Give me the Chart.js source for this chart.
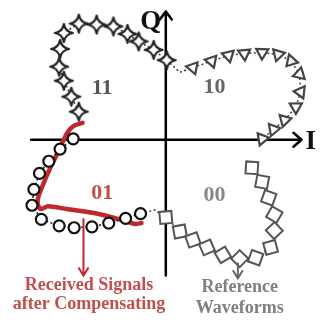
<!DOCTYPE html>
<html>
<head>
<meta charset="utf-8">
<script src="https://cdn.jsdelivr.net/npm/chart.js@4.4.0/dist/chart.umd.min.js"></script>
<style>
  body { margin: 0; background: #fff; }
  canvas { display: block; }
</style>
</head>
<body>
<canvas id="myChart" width="326" height="330"></canvas>
<script>
// symbols, in I / Q units (origin = axis crossing)
var stars11I = [-93, -101, -109, -114, -113, -109, -93, -74, -56, -41, -29, -13, 1];
var stars11Q = [30, 46, 63, 78, 97, 114, 124, 123, 121, 113, 105, 96, 85];

var tri10I = [29, 49, 67, 84, 103, 120, 134, 143, 144, 139, 127, 115, 103];
var tri10Q = [77, 84, 90, 92, 93, 91, 84, 70, 51, 35, 21, 11, 1];

var circ01I = [-99, -113, -125, -135, -141, -143, -133, -114, -98, -79, -61, -43, -27];
var circ01Q = [1, -10, -23, -36, -53, -70, -85, -92, -94, -93, -89, -84, -79];

var sq00I = [0, 15, 29, 44, 61, 79, 96, 112, 116, 116, 110, 103, 92];
var sq00Q = [-83, -98, -107, -115, -123, -127, -126, -115, -97, -80, -62, -45, -30];

// received signal after compensation (red trace)
var rxI = [-89, -98, -105, -110, -116, -123, -130, -136, -137, -134, -126, -106, -73, -46, -33, -26];
var rxQ = [18, 15, 8, -2, -15, -29, -45, -60, -68, -74, -71, -74, -79, -86, -90, -89];

// dotted links between the groups
var link1I = [1, 15, 29];
var link1Q = [85, 72, 77];
var link2I = [-27, -12, 0];
var link2Q = [-79, -75, -83];

var quadLabels = ['11', '10', '01', '00'];

function pts(xs, ys) {
  return xs.map(function (x, i) { return { x: x, y: ys[i] }; });
}

// four pointed star marker
var starImg = document.createElement('canvas');
starImg.width = 22; starImg.height = 22;
(function () {
  var c = starImg.getContext('2d');
  var cx = 11, cy = 11, R = 9, r = 1.8;
  c.beginPath();
  for (var k = 0; k < 4; k++) {
    var a = k * Math.PI / 2 - Math.PI / 2;
    var b = a + Math.PI / 4;
    var a2 = a + Math.PI / 2;
    if (k === 0) c.moveTo(cx + R * Math.cos(a), cy + R * Math.sin(a));
    c.quadraticCurveTo(cx + r * Math.cos(b), cy + r * Math.sin(b), cx + R * Math.cos(a2), cy + R * Math.sin(a2));
  }
  c.closePath();
  c.fillStyle = '#fff';
  c.fill();
  c.lineWidth = 2.2;
  c.lineJoin = 'round';
  c.strokeStyle = '#222';
  c.stroke();
})();

// rotate a marker along its path
function along(offset) {
  return function (ctx) {
    var d = ctx.dataset.data, i = ctx.dataIndex;
    var a = d[Math.max(i - 1, 0)], b = d[Math.min(i + 1, d.length - 1)];
    var ang = Math.atan2(-(b.y - a.y), b.x - a.x) * 180 / Math.PI;
    return ang + offset;
  };
}

function arrow(c, x, y0, y1, color, w) {
  c.save();
  c.strokeStyle = color;
  c.lineWidth = w;
  c.beginPath();
  c.moveTo(x, y0); c.lineTo(x, y1);
  c.moveTo(x - 5, y1 - 8); c.lineTo(x, y1); c.lineTo(x + 5, y1 - 8);
  c.stroke();
  c.restore();
}

var decor = {
  id: 'decor',
  beforeDatasetsDraw: function (chart) {
    var c = chart.ctx, sx = chart.scales.x, sy = chart.scales.y;
    var ox = sx.getPixelForValue(0), oy = sy.getPixelForValue(0);
    c.save();
    c.strokeStyle = '#000';
    c.lineWidth = 2.5;
    c.lineCap = 'round';
    c.lineJoin = 'round';
    // I axis
    var xe = sx.getPixelForValue(145);
    c.beginPath();
    c.moveTo(sx.getPixelForValue(-144), oy); c.lineTo(xe, oy);
    c.moveTo(xe - 8, oy - 7); c.lineTo(xe, oy); c.lineTo(xe - 8, oy + 7);
    // Q axis
    var ye = sy.getPixelForValue(137);
    c.moveTo(ox, sy.getPixelForValue(-145)); c.lineTo(ox, ye);
    c.moveTo(ox - 6, ye + 8); c.lineTo(ox, ye); c.lineTo(ox + 6, ye + 8);
    c.stroke();
    c.restore();
  },
  afterDraw: function (chart) {
    var c = chart.ctx, sx = chart.scales.x, sy = chart.scales.y;
    var X = function (v) { return sx.getPixelForValue(v); };
    var Y = function (v) { return sy.getPixelForValue(v); };
    c.save();
    c.textAlign = 'center';
    c.textBaseline = 'middle';
    c.font = 'bold 27px "Liberation Serif"';
    c.fillStyle = '#111';
    c.fillText('Q', X(-16), Y(126));
    c.fillText('I', X(155), Y(-2));

    c.font = 'bold 22px "Liberation Serif"';
    var qpos = [[-68, 55, '#555'], [52, 56, '#666'], [-68, -57, '#c0504d'], [52, -59, '#888']];
    quadLabels.forEach(function (t, i) {
      c.fillStyle = qpos[i][2];
      c.fillText(t, X(qpos[i][0]), Y(qpos[i][1]));
    });

    arrow(c, X(-88), Y(-84), Y(-145), '#c0282e', 2);
    arrow(c, X(77), Y(-131), Y(-148), '#666', 2);

    c.font = 'bold 18px "Liberation Serif"';
    c.fillStyle = '#c0504d';
    c.fillText('Received Signals', X(-82), Y(-155));
    c.fillText('after Compensating', X(-82), Y(-176));
    c.fillStyle = '#808080';
    c.fillText('Reference', X(79), Y(-158));
    c.fillText('Waveforms', X(79), Y(-180));
    c.restore();
  }
};

var dotted = { borderDash: [2, 2.5], borderWidth: 1.5, borderColor: '#333', showLine: true, pointRadius: 0, fill: false };

var ctx = document.getElementById('myChart').getContext('2d');
var chart = new Chart(ctx, {
  type: 'scatter',
  data: {
    datasets: [
      Object.assign({ data: pts(link1I, link1Q), order: 9 }, dotted),
      Object.assign({ data: pts(link2I, link2Q), order: 9 }, dotted),
      {
        label: 'Received',
        data: pts(rxI, rxQ),
        showLine: true,
        borderColor: '#c0282e',
        borderWidth: 4.5,
        borderCapStyle: 'round',
        tension: 0.25,
        pointRadius: 0,
        order: 8
      },
      Object.assign({}, dotted, {
        label: '11',
        data: pts(stars11I, stars11Q),
        pointStyle: starImg,
        pointRadius: 9,
        order: 2
      }),
      Object.assign({}, dotted, {
        label: '10',
        data: pts(tri10I, tri10Q),
        borderColor: '#444',
        pointStyle: 'triangle',
        pointRadius: 7,
        pointBorderWidth: 2.2,
        pointBorderColor: '#444',
        pointBackgroundColor: '#fff',
        pointRotation: along(180),
        order: 2
      }),
      Object.assign({}, dotted, {
        label: '01',
        data: pts(circ01I, circ01Q),
        borderColor: '#111',
        pointStyle: 'circle',
        pointRadius: 5.5,
        pointBorderWidth: 2.2,
        pointBorderColor: '#111',
        pointBackgroundColor: '#fff',
        order: 1
      }),
      Object.assign({}, dotted, {
        label: '00',
        data: pts(sq00I, sq00Q),
        borderColor: '#555',
        pointStyle: 'rect',
        pointRadius: 8.5,
        pointBorderWidth: 2,
        pointBorderColor: '#555',
        pointBackgroundColor: '#fff',
        pointRotation: along(40),
        order: 2
      })
    ]
  },
  options: {
    responsive: false,
    animation: false,
    layout: { padding: 0 },
    plugins: { legend: { display: false }, tooltip: { enabled: false } },
    scales: {
      x: { type: 'linear', min: -166, max: 160, display: false },
      y: { type: 'linear', min: -192, max: 138, display: false }
    }
  },
  plugins: [decor]
});
</script>
</body>
</html>
